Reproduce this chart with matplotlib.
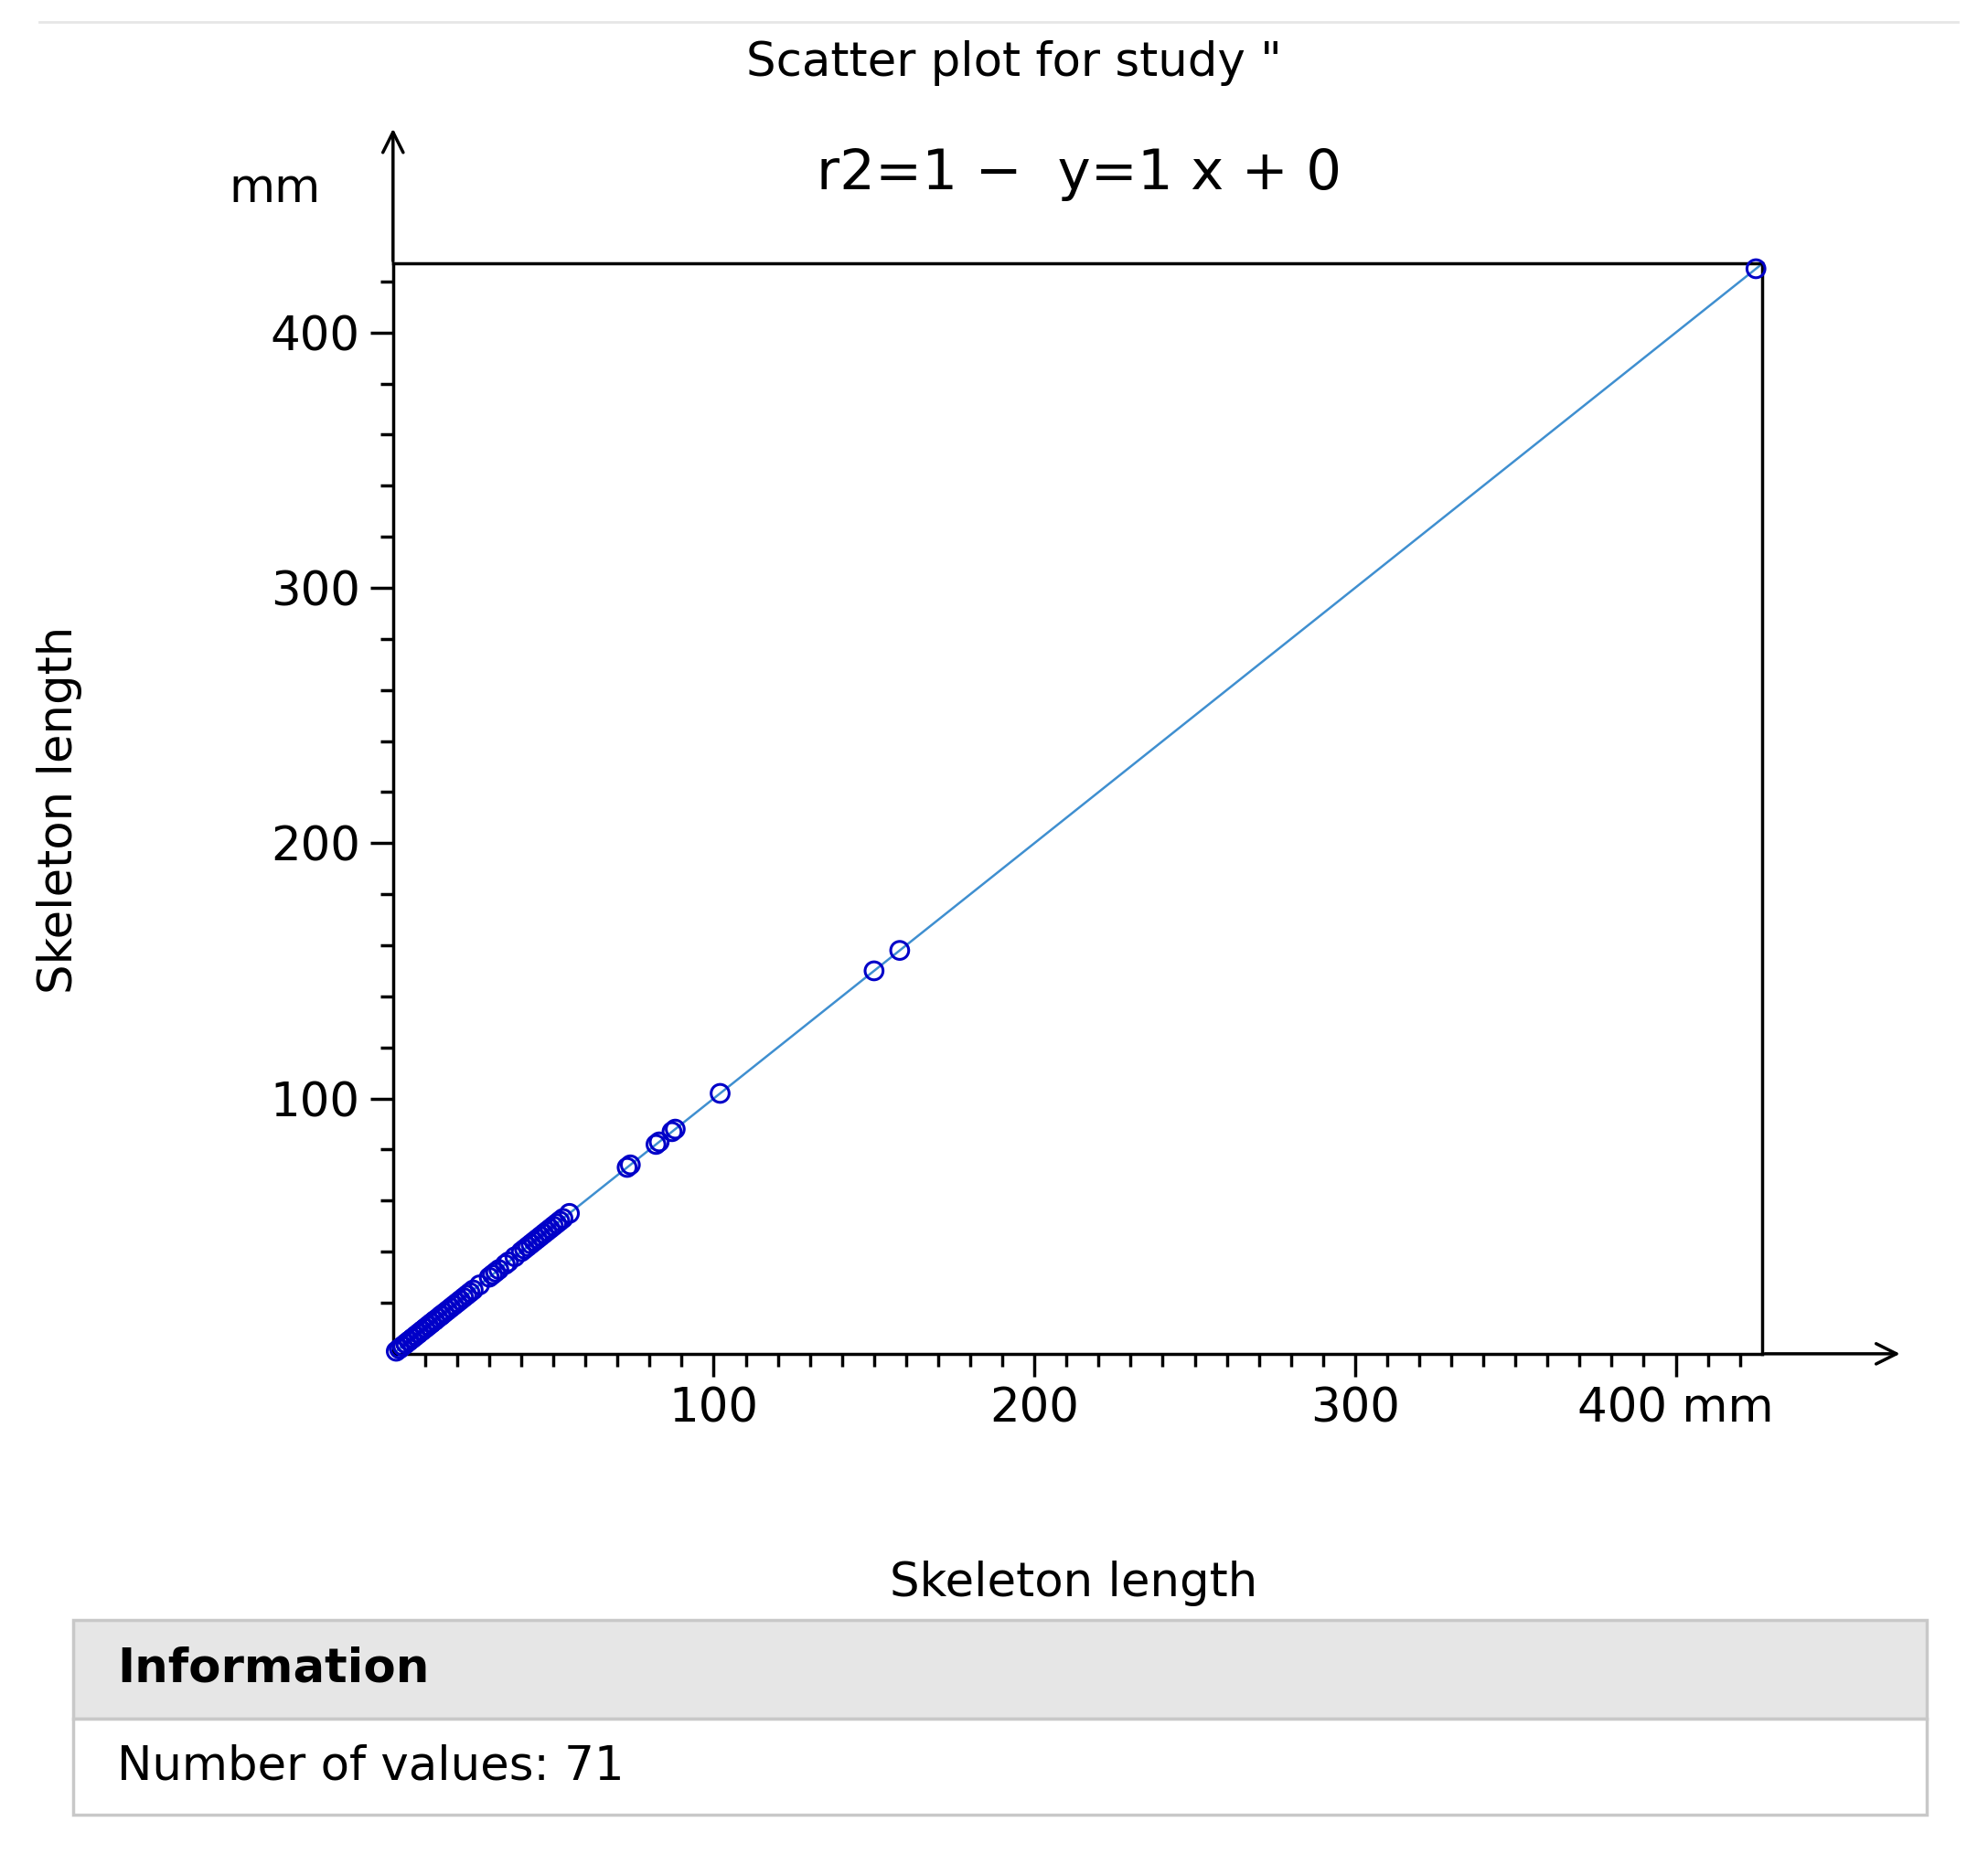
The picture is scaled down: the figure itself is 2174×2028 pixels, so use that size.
import matplotlib
matplotlib.use("Agg")
import matplotlib.pyplot as plt
from matplotlib.patches import Rectangle
import numpy as np

vals = [1, 2, 2, 3, 3, 4, 4, 5, 5, 6, 6, 7, 7, 8, 8, 9, 9, 10, 10, 11, 11, 12, 12, 13,
        13, 14, 15, 15, 16, 17, 18, 19, 20, 21, 22, 23, 24, 25, 27, 30, 31, 32, 33, 35,
        36, 38, 40, 41, 42, 43, 44, 45, 46, 47, 48, 49, 50, 51, 52, 53, 55, 73, 74, 82,
        83, 87, 88, 102, 150, 158, 425]
x = np.array(vals, float)
y = np.array(vals, float)
xmax = ymax = 427
blue = "#0000c8"
line_c = "#3f8fd0"
fs = 37

fig = plt.figure(figsize=(21.74, 20.28), dpi=100)
ax = fig.add_axes([0.1977, 0.2698, 0.8865 - 0.1977, 0.8578 - 0.2698])
ax.set_xlim(0, xmax); ax.set_ylim(0, ymax)
ax.plot([0, xmax], [0, ymax], color=line_c, lw=1.8, zorder=2)
ax.scatter(x, y, s=200, facecolors="none", edgecolors=blue, linewidths=2.2, zorder=3, clip_on=False)
for s in ax.spines.values():
    s.set_linewidth(2.5); s.set_color("black")
ax.set_xticks([100, 200, 300, 400]); ax.set_xticklabels(["100", "200", "300", "400 mm"])
ax.set_yticks([100, 200, 300, 400])
ax.set_xticks(np.arange(10, 421, 10), minor=True)
ax.set_yticks(np.arange(20, 421, 20), minor=True)
ax.tick_params(which="major", length=18, width=2.5, labelsize=fs, pad=8)
ax.tick_params(which="minor", length=10, width=2.5)
ax.annotate("", xy=(0, 0.932), xycoords=("axes fraction", "figure fraction"),
            xytext=(0, 1), textcoords="axes fraction",
            arrowprops=dict(arrowstyle="->", lw=2.5, mutation_scale=40, color="black"))
ax.annotate("", xy=(0.957, 0), xycoords=("figure fraction", "axes fraction"),
            xytext=(1, 0), textcoords="axes fraction",
            arrowprops=dict(arrowstyle="->", lw=2.5, mutation_scale=40, color="black"))
fig.text(0.115, 0.898, "mm", fontsize=fs, ha="left", va="center")
fig.text(0.51, 0.966, "Scatter plot for study \"", fontsize=fs, ha="center", va="center")
fig.text(0.543, 0.906, "r2=1 \u2212  y=1 x + 0", fontsize=44, ha="center", va="center")
fig.text(0.03, 0.563, "Skeleton length", fontsize=fs, rotation=90, ha="center", va="center")
fig.text(0.54, 0.146, "Skeleton length", fontsize=fs, ha="center", va="center")
fig.add_artist(plt.Line2D([0.02, 0.985], [0.988, 0.988], color="#e6e6e6", lw=2))
x0, x1 = 58 / 1568, 1520 / 1568
yt, ym, yb = 1 - 1278 / 1462.7, 1 - 1356 / 1462.7, 1 - 1432 / 1462.7
fig.add_artist(Rectangle((x0, ym), x1 - x0, yt - ym, facecolor="#e6e6e6", edgecolor="#c8c8c8", lw=2.5))
fig.add_artist(Rectangle((x0, yb), x1 - x0, ym - yb, facecolor="white", edgecolor="#c8c8c8", lw=2.5))
fig.text(x0 + 0.022, (yt + ym) / 2, "Information", fontsize=fs, weight="bold", va="center")
fig.text(x0 + 0.022, (ym + yb) / 2, "Number of values: 71", fontsize=fs, va="center")
fig.savefig("out.png", dpi=100)
